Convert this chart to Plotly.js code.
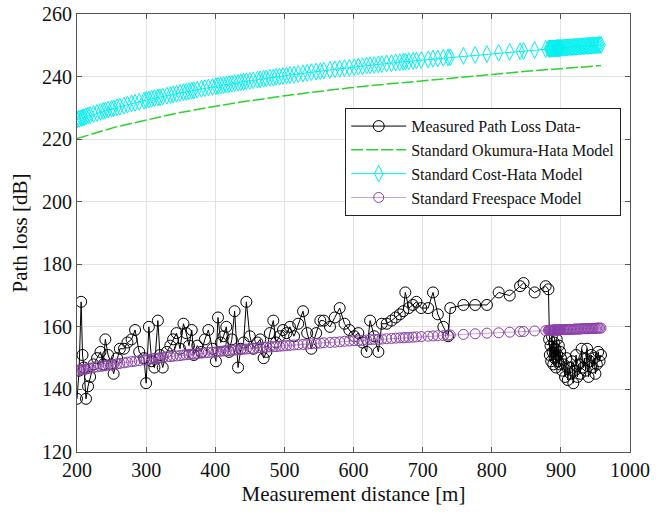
<!DOCTYPE html>
<html>
<head>
<meta charset="utf-8">
<script src="https://cdn.plot.ly/plotly-3.0.1.min.js"></script>
<style>html,body{margin:0;padding:0;background:#fff}#chart{width:665px;height:517px}</style>
</head>
<body>
<div id="chart"></div>
<script>
// Measurement distance [m]
const distance = [
  200,203,206,208,210,213,216,219,224,229,234,238,241,245,250,253,258,262,268,273,
  279,284,290,297,300,304,308,312,317,320,324,330,335,339,344,349,354,358,362,366,
  369,374,380,385,390,396,401,404,408,412,416,420,424,428,433,437,441,445,450,455,
  461,465,470,474,479,484,488,493,498,503,508,514,520,527,533,539,546,552,557,566,
  573,580,587,594,601,607,613,619,624,630,636,641,648,655,661,667,672,675,680,686,
  691,698,708,715,722,730,737,740,759,776,793,810,826,841,846,862,878,882,
  883,884,885,886,887,888,889,890,891,892,893,894,895,896,897,898,899,900,
  902,904,906,908,910,912,914,916,918,920,922,924,926,928,930,932,934,936,938,940,
  942,944,946,948,950,952,954,956,958
];
// Measured path loss data [dB]
const measured = [
  137,146,168,151,147,137,141,144,148,150,152,148,156,151,148,145,150,153,153,155,
  156,159,152,150,142,160,149,147,162,151,147,152,154,156,158,153,161,158,154,159,
  151,154,152,156,159,153,149,163,155,157,160,152,156,165,147,153,155,168,157,153,
  155,156,150,152,158,162,155,157,159,158,160,157,161,165,158,153,158,162,162,160,
  163,166,161,159,157,158,155,152,162,157,152,161,161,162,163,164,165,171,166,167,
  168,166,166,171,164,160,157,166,167,167,167,171,170,173,174,171,173,172,
  156,151,154,149,157,152,148,155,150,153,147,156,151,149,154,148,152,150,
  146,148,144,150,143,147,145,149,142,146,151,144,148,145,153,147,150,146,153,144,
  149,151,147,150,145,148,152,149,151
];
// Standard Okumura-Hata model [dB]
const okumuraHata = [
  220.2,220.4,220.6,220.8,220.9,221.1,221.3,221.5,221.9,222.2,222.5,222.8,223.0,223.2,223.5,223.7,224.0,224.2,224.5,224.8,
  225.1,225.4,225.7,226.1,226.2,226.4,226.6,226.8,227.0,227.2,227.4,227.6,227.9,228.0,228.3,228.5,228.7,228.8,229.0,229.2,
  229.3,229.5,229.7,229.9,230.1,230.3,230.5,230.6,230.8,230.9,231.1,231.2,231.4,231.5,231.7,231.8,231.9,232.1,232.2,232.4,
  232.6,232.7,232.9,233.0,233.2,233.3,233.4,233.6,233.8,233.9,234.0,234.2,234.4,234.6,234.8,234.9,235.1,235.3,235.4,235.7,
  235.8,236.0,236.2,236.4,236.5,236.7,236.8,237.0,237.1,237.2,237.4,237.5,237.7,237.8,238.0,238.1,238.2,238.3,238.4,238.5,
  238.6,238.8,239.0,239.1,239.3,239.4,239.6,239.6,240.0,240.3,240.7,241.0,241.3,241.5,241.6,241.9,242.2,242.2,
  242.3,242.3,242.3,242.3,242.3,242.4,242.4,242.4,242.4,242.4,242.4,242.4,242.5,242.5,242.5,242.5,242.5,242.5,
  242.6,242.6,242.6,242.7,242.7,242.7,242.8,242.8,242.8,242.9,242.9,243.0,243.0,243.0,243.0,243.1,243.1,243.1,243.2,243.2,
  243.2,243.3,243.3,243.3,243.4,243.4,243.4,243.5,243.5
];
// Standard Cost-Hata model [dB]
const costHata = [
  226.3,226.5,226.7,226.9,227.0,227.3,227.5,227.7,228.0,228.4,228.7,229.0,229.1,229.4,229.7,229.9,230.2,230.4,230.7,231.0,
  231.4,231.6,231.9,232.3,232.5,232.7,232.9,233.1,233.3,233.4,233.6,233.9,234.1,234.3,234.5,234.8,235.0,235.1,235.3,235.5,
  235.6,235.8,236.1,236.3,236.5,236.7,236.9,237.0,237.1,237.3,237.4,237.6,237.7,237.9,238.0,238.2,238.3,238.5,238.6,238.8,
  239.0,239.1,239.3,239.4,239.6,239.7,239.9,240.0,240.2,240.3,240.5,240.6,240.8,241.0,241.2,241.4,241.6,241.7,241.9,242.1,
  242.3,242.5,242.7,242.8,243.0,243.2,243.3,243.5,243.6,243.7,243.9,244.0,244.2,244.3,244.5,244.6,244.7,244.8,244.9,245.0,
  245.1,245.3,245.5,245.7,245.8,246.0,246.1,246.2,246.6,246.9,247.2,247.6,247.9,248.1,248.2,248.5,248.8,248.9,
  248.9,248.9,248.9,248.9,249.0,249.0,249.0,249.0,249.0,249.0,249.1,249.1,249.1,249.1,249.1,249.1,249.1,249.2,
  249.2,249.2,249.3,249.3,249.3,249.4,249.4,249.4,249.5,249.5,249.5,249.6,249.6,249.6,249.7,249.7,249.7,249.8,249.8,249.8,
  249.9,249.9,249.9,250.0,250.0,250.0,250.1,250.1,250.1
];
// Standard free-space model [dB]
const freeSpace = [
  146.0,146.1,146.3,146.3,146.4,146.5,146.7,146.8,147.0,147.2,147.4,147.5,147.6,147.8,147.9,148.0,148.2,148.3,148.5,148.7,
  148.9,149.0,149.2,149.4,149.5,149.6,149.8,149.9,150.0,150.1,150.2,150.4,150.5,150.6,150.7,150.8,151.0,151.1,151.2,151.3,
  151.3,151.4,151.6,151.7,151.8,151.9,152.0,152.1,152.2,152.3,152.4,152.4,152.5,152.6,152.7,152.8,152.9,152.9,153.0,153.1,
  153.3,153.3,153.4,153.5,153.6,153.7,153.7,153.8,153.9,154.0,154.1,154.2,154.3,154.4,154.5,154.6,154.7,154.8,154.9,155.0,
  155.1,155.2,155.4,155.5,155.6,155.6,155.7,155.8,155.9,156.0,156.0,156.1,156.2,156.3,156.4,156.5,156.5,156.6,156.6,156.7,
  156.8,156.9,157.0,157.1,157.2,157.2,157.3,157.4,157.6,157.8,158.0,158.1,158.3,158.5,158.5,158.7,158.8,158.9,
  158.9,158.9,158.9,158.9,158.9,158.9,159.0,159.0,159.0,159.0,159.0,159.0,159.0,159.0,159.0,159.0,159.1,159.1,
  159.1,159.1,159.1,159.1,159.2,159.2,159.2,159.2,159.2,159.3,159.3,159.3,159.3,159.3,159.4,159.4,159.4,159.4,159.4,159.4,
  159.5,159.5,159.5,159.5,159.5,159.6,159.6,159.6,159.6
];
const seriesNames = ['Measured Path Loss Data-','Standard Okumura-Hata Model','Standard Cost-Hata Model','Standard Freespace Model'];
const xTicks = [200,300,400,500,600,700,800,900,1000];
const yTicks = [120,140,160,180,200,220,240,260];

const font = 'Liberation Serif, Times New Roman, serif';
const traces = [
  {x: distance, y: measured, name: seriesNames[0], mode: 'lines+markers', type: 'scatter',
   line: {color: '#000000', width: 1},
   marker: {symbol: 'circle-open', size: 11, color: '#000000', line: {width: 1, color: '#000000'}}},
  {x: distance, y: okumuraHata, name: seriesNames[1], mode: 'lines', type: 'scatter',
   line: {color: '#2bd42b', width: 1.5, dash: '12px,3px'}},
  {x: distance, y: costHata, name: seriesNames[2], mode: 'lines+markers', type: 'scatter',
   line: {color: '#00f0f0', width: 1},
   marker: {symbol: 'diamond-tall-open', size: 12, color: '#00f0f0', line: {width: 1, color: '#00f0f0'}}},
  {x: distance, y: freeSpace, name: seriesNames[3], mode: 'lines+markers', type: 'scatter',
   line: {color: '#c8a0d0', width: 1},
   marker: {symbol: 'circle-open', size: 10, color: '#8a3fa8', line: {width: 1, color: '#8a3fa8'}}}
];
const axisCommon = {
  showline: true, linecolor: '#555', linewidth: 1, mirror: 'ticks',
  ticks: 'inside', ticklen: 5, tickcolor: '#555',
  showgrid: true, gridcolor: '#e2e2e2', gridwidth: 1, zeroline: false,
  tickfont: {family: font, size: 20, color: '#111'}
};
const layout = {
  width: 665, height: 517,
  margin: {l: 77, r: 35, t: 14, b: 65},
  paper_bgcolor: '#ffffff', plot_bgcolor: '#ffffff',
  showlegend: true,
  xaxis: Object.assign({}, axisCommon, {range: [200, 1000], tickvals: xTicks, automargin: false,
    title: {text: 'Measurement distance [m]', font: {family: font, size: 21, color: '#111'}, standoff: 6}}),
  yaxis: Object.assign({}, axisCommon, {range: [120, 260], tickvals: yTicks, automargin: false,
    title: {text: 'Path loss [dB]', font: {family: font, size: 21, color: '#111'}, standoff: 8}}),
  legend: {x: 0.485, y: 0.785, xanchor: 'left', yanchor: 'top',
    bgcolor: '#ffffff', bordercolor: '#222', borderwidth: 1,
    font: {family: font, size: 16, color: '#111'}, itemwidth: 55, tracegroupgap: 0}
};
Plotly.newPlot('chart', traces, layout, {displayModeBar: false, staticPlot: true});
</script>
</body>
</html>
